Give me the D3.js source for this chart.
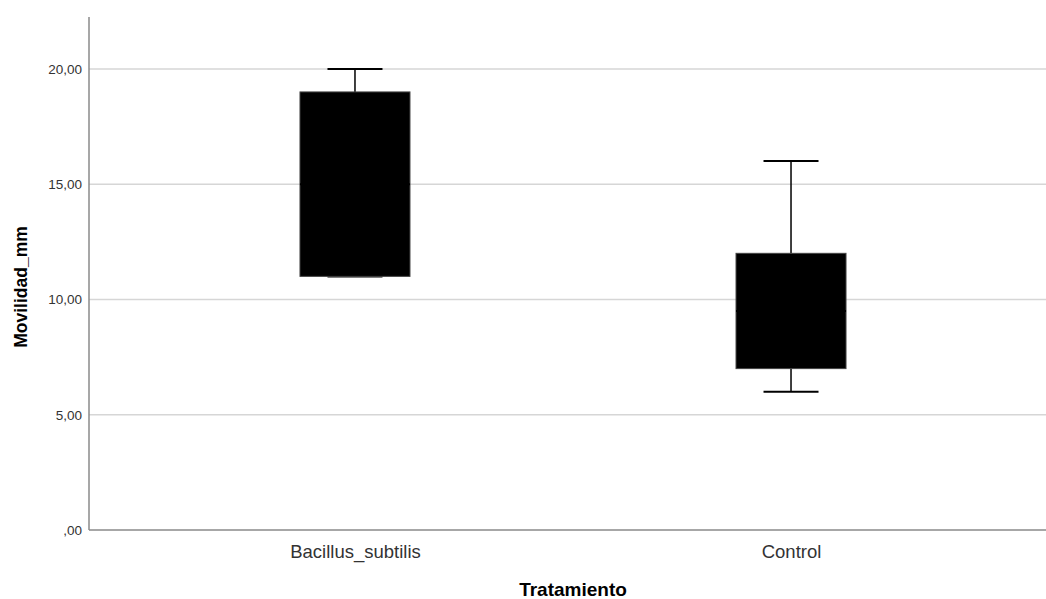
<!DOCTYPE html>
<html><head><meta charset="utf-8">
<script src="https://cdn.jsdelivr.net/npm/d3@7"></script>
<style>body{margin:0;background:#fff}svg{display:block;font-family:"Liberation Sans",Arial,sans-serif}</style>
</head><body>
<svg id="c" width="1046" height="599"></svg>
<script>
const categories = ["Bacillus_subtilis", "Control"];
const mins    = [11, 6];
const q1s     = [11, 7];
const medians = [15, 9.5];
const q3s     = [19, 12];
const maxs    = [20, 16];
const yTicks  = [0, 5, 10, 15, 20];
const yTickLabels = [",00", "5,00", "10,00", "15,00", "20,00"];

const svg = d3.select("#c");
const L = 89, T = 17, B = 530, R = 1046;
const y = d3.scaleLinear().domain([0, 22.25]).range([B, T]);
const x = d3.scalePoint().domain(categories).range([89, 1057]).padding(0.61);

// gridlines
svg.append("g").selectAll("line").data(yTicks.filter(d => d > 0)).join("line")
  .attr("x1", L).attr("x2", R).attr("y1", d => y(d)).attr("y2", d => y(d))
  .attr("stroke", "#d6d6d6").attr("stroke-width", 1.5);

// y axis
const ya = d3.axisLeft(y).tickValues(yTicks).tickSize(0).tickPadding(7)
  .tickFormat((d, i) => yTickLabels[i]);
const gy = svg.append("g").attr("transform", `translate(${L},0)`).call(ya);
gy.select(".domain").remove();
gy.selectAll("text").attr("font-size", 13.5).attr("fill", "#333").attr("font-family", "Liberation Sans, Arial, sans-serif");
svg.append("line").attr("x1", L).attr("x2", L).attr("y1", T).attr("y2", B)
  .attr("stroke", "#8a8a8a").attr("stroke-width", 1.5);

// x axis
const xa = d3.axisBottom(x).tickSize(0).tickPadding(15);
const gx = svg.append("g").attr("transform", `translate(0,${B})`).call(xa);
gx.select(".domain").remove();
gx.selectAll("text").attr("font-size", 18.5).attr("fill", "#333").attr("font-family", "Liberation Sans, Arial, sans-serif");
svg.append("line").attr("x1", L).attr("x2", R).attr("y1", B).attr("y2", B)
  .attr("stroke", "#8a8a8a").attr("stroke-width", 1.5);

// boxes
const bw = 110, cw = 55;
const g = svg.append("g").selectAll("g").data(categories).join("g");
g.append("line").attr("x1", d => x(d)).attr("x2", d => x(d))
  .attr("y1", (d, i) => y(maxs[i])).attr("y2", (d, i) => y(q3s[i]))
  .attr("stroke", "#000").attr("stroke-width", 1.5);
g.append("line").attr("x1", d => x(d)).attr("x2", d => x(d))
  .attr("y1", (d, i) => y(mins[i])).attr("y2", (d, i) => y(q1s[i]))
  .attr("stroke", "#000").attr("stroke-width", 1.5);
g.append("line").attr("x1", d => x(d) - cw / 2).attr("x2", d => x(d) + cw / 2)
  .attr("y1", (d, i) => y(maxs[i])).attr("y2", (d, i) => y(maxs[i]))
  .attr("stroke", "#000").attr("stroke-width", 2);
g.append("line").attr("x1", d => x(d) - cw / 2).attr("x2", d => x(d) + cw / 2)
  .attr("y1", (d, i) => y(mins[i])).attr("y2", (d, i) => y(mins[i]))
  .attr("stroke", "#000").attr("stroke-width", 2);
g.append("rect").attr("x", d => x(d) - bw / 2).attr("width", bw)
  .attr("y", (d, i) => y(q3s[i])).attr("height", (d, i) => y(q1s[i]) - y(q3s[i]))
  .attr("fill", "#000").attr("stroke", "#444").attr("stroke-width", 1);
g.append("line").attr("x1", d => x(d) - bw / 2).attr("x2", d => x(d) + bw / 2)
  .attr("y1", (d, i) => y(medians[i])).attr("y2", (d, i) => y(medians[i]))
  .attr("stroke", "#000").attr("stroke-width", 2);

// titles
svg.append("text").attr("x", 573).attr("y", 596).attr("text-anchor", "middle")
  .attr("font-size", 19).attr("font-weight", "bold").attr("fill", "#000").text("Tratamiento");
svg.append("text").attr("transform", "translate(27,287) rotate(-90)").attr("text-anchor", "middle")
  .attr("font-size", 17.5).attr("font-weight", "bold").attr("fill", "#000").text("Movilidad_mm");
</script>
</body></html>
